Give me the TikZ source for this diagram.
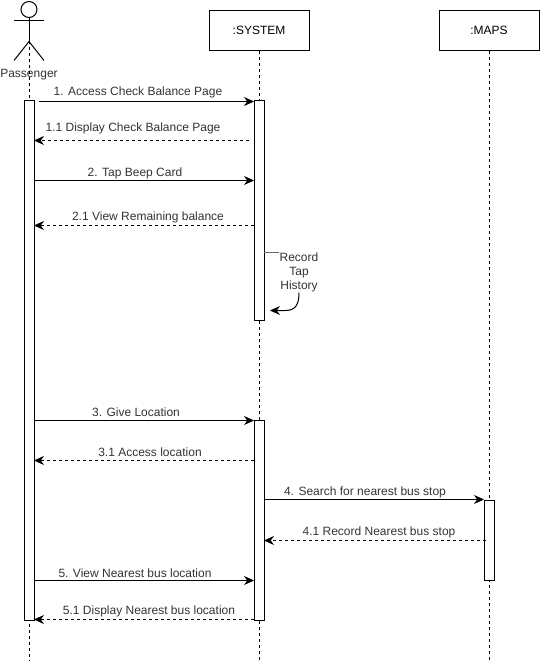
\documentclass[tikz,border=0pt]{standalone}
\usepackage{fontspec}
\setmainfont{Liberation Sans}
\usetikzlibrary{arrows.meta, positioning}

\begin{document}
\begin{tikzpicture}[x=1pt, y=-1pt, font=\fontsize{12}{14}\selectfont, line width=1pt]
% Setup the styles
\tikzset{object style/.style={draw, minimum width=100pt, minimum height=40pt, inner sep=0pt},
	bar style/.style={draw, fill=white, minimum width=10pt, inner sep=0pt},
	text style/.style={inner sep=0pt, text=black!80, yshift=-1pt},
	life style/.style={dash pattern=on 3pt off 3pt},
	call style/.style={-{Stealth[length=10pt, width=9pt]}},
	back style/.style={call style, dash pattern=on 3pt off 3pt}}
\useasboundingbox (0, -0.5) rectangle (540, 662.5);

% Draw the objects
\node[object style] at (259, 30) (system) {:SYSTEM};
\node[object style] at (489, 30) (maps)   {:MAPS};

% Draw the actor
\node[draw, circle, minimum size=16pt, inner sep=0pt] at (29, 9) (head) {};
\coordinate (hip) at (29, 41);
\coordinate (armL) at (14, 20);
\coordinate (armR) at (44, 20);
\coordinate (legL) at (14, 60);
\coordinate (legR) at (44, 60);
\draw (head) -- (hip);
\draw (armL) -- (armR);
\draw (legL) -- (hip) -- (legR);
\node[text style] at (29, 73) (passenger) {Passenger};

% Draw the lifelines
\coordinate (endP) at (29, 660);
\coordinate (endS) at (259, 660);
\coordinate (endM) at (489, 660);
\draw[life style] (hip) -- (endP);
\draw[life style] (system) -- (endS);
\draw[life style] (maps) -- (endM);

% Draw the activation bars
\node[bar style, minimum height=520pt] at (29, 360)  (barP)  {};
\node[bar style, minimum height=220pt] at (259, 210) (barS1) {};
\node[bar style, minimum height=200pt] at (259, 520) (barS2) {};
\node[bar style, minimum height=80pt]  at (489, 540) (barM)  {};

% Free ends of the arrows
\coordinate (a1) at (39, 101);
\coordinate (b1) at (254, 101);
\coordinate (a2) at (249, 140);
\coordinate (b2) at (34, 140);
\coordinate (a3) at (34, 180);
\coordinate (b3) at (254, 180);
\coordinate (a4) at (254, 225);
\coordinate (b4) at (34, 225);
\coordinate (a5) at (34, 420);
\coordinate (b5) at (254, 420);
\coordinate (a6) at (254, 460);
\coordinate (b6) at (34, 460);
\coordinate (a7) at (264, 499);
\coordinate (b7) at (484, 499);
\coordinate (a8) at (486, 540);
\coordinate (b8) at (264, 540);
\coordinate (a9) at (34, 580);
\coordinate (b9) at (254, 580);
\coordinate (a10) at (254, 619);
\coordinate (b10) at (34, 619);

% Connect the bars with arrows
\draw[call style] (a1) -- (b1);
\draw[back style] (a2) -- (b2);
\draw[call style] (a3) -- (b3);
\draw[back style] (a4) -- (b4);
\draw[call style] (a5) -- (b5);
\draw[back style] (a6) -- (b6);
\draw[call style] (a7) -- (b7);
\draw[back style] (a8) -- (b8);
\draw[call style] (a9) -- (b9);
\draw[back style] (a10) -- (b10);

% Labels of the arrows
\node[text style] at (138, 91)  (m1)  {1. Access Check Balance Page};
\node[text style] at (133, 127) (m2)  {1.1 Display Check Balance Page};
\node[text style] at (135, 172) (m3)  {2. Tap Beep Card};
\node[text style] at (148, 216) (m4)  {2.1 View Remaining balance};
\node[text style] at (136, 411) (m5)  {3. Give Location};
\node[text style] at (150, 451) (m6)  {3.1 Access location};
\node[text style] at (365, 491) (m7)  {4. Search for nearest bus stop};
\node[text style] at (379, 531) (m8)  {4.1 Record Nearest bus stop};
\node[text style] at (135, 572) (m9)  {5. View Nearest bus location};
\node[text style] at (149, 610) (m10) {5.1 Display Nearest bus location};

% The self call
\node[text style, align=center] at (299, 271) (record) {Record\\Tap\\History};
\coordinate (s0) at (264, 252);
\coordinate (s1) at (279, 252);
\coordinate (s2) at (270, 310);
\draw[draw=black!60] (s0) -- (s1);
\draw[call style] (record.south) .. controls (299, 305) and (295, 310) .. (285, 310) -- (s2);
\end{tikzpicture}
\end{document}
